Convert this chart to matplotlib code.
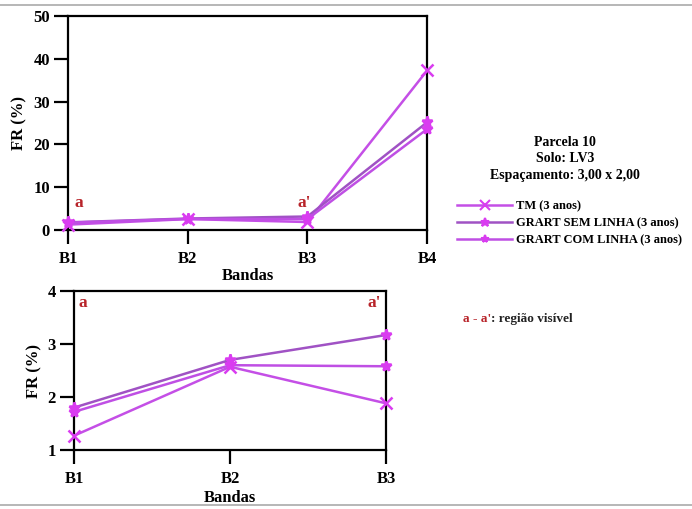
import matplotlib
matplotlib.use("Agg")
import matplotlib.pyplot as plt
from matplotlib.lines import Line2D

plt.rcParams['font.family'] = ['Liberation Serif', 'DejaVu Serif']
plt.rcParams['font.weight'] = 'bold'

bands_top = ["B1", "B2", "B3", "B4"]
bands_bot = ["B1", "B2", "B3"]
series_names = ["TM (3 anos)", "GRART SEM LINHA (3 anos)", "GRART COM LINHA (3 anos)"]
tm = [1.27, 2.57, 1.88, 37.3]
grart_sem = [1.80, 2.70, 3.17, 25.2]
grart_com = [1.72, 2.60, 2.58, 23.6]
series = [tm, grart_sem, grart_com]
line_colors = ["#c44fe6", "#a052c4", "#bf4fe4"]
markers = ["x", "*", "*"]
msizes = [9, 8, 7]
marker_color = "#d93cf0"
yticks_top = [0, 10, 20, 30, 40, 50]
yticks_bot = [1, 2, 3, 4]
red = "#b8242a"

fig = plt.figure(figsize=(6.92, 5.09), dpi=100)

def style(ax):
    for s in ax.spines.values():
        s.set_linewidth(1.6)
    ax.tick_params(axis='x', direction='out', length=10, width=1.6, labelsize=12, pad=5)
    ax.tick_params(axis='y', direction='out', length=10, width=1.6, labelsize=12, pad=3)
    for lab in ax.get_xticklabels() + ax.get_yticklabels():
        lab.set_fontweight('bold')

ax1 = fig.add_axes([0.0983, 0.548, 0.519, 0.4204])
xs = list(range(len(bands_top)))
for vals, c, m, ms in zip(series, line_colors, markers, msizes):
    ax1.plot(xs, vals, color=c, lw=1.8, marker=m, ms=ms, mec=marker_color,
             mfc=marker_color, mew=1.8, clip_on=False, zorder=3)
ax1.set_xlim(0, 3)
ax1.set_ylim(0, 50)
ax1.set_xticks(xs)
ax1.set_xticklabels(bands_top)
ax1.set_yticks(yticks_top)
ax1.set_xlabel("Bandas", fontsize=12, fontweight='bold', labelpad=1)
ax1.set_ylabel("FR (%)", fontsize=12, fontweight='bold', labelpad=4)
style(ax1)
ax1.text(0.05, 4.5, "a", color=red, fontsize=12.5, fontweight='bold', ha='left', va='bottom')
ax1.text(1.97, 4.5, "a'", color=red, fontsize=12.5, fontweight='bold', ha='center', va='bottom')

ax2 = fig.add_axes([0.107, 0.1159, 0.451, 0.3124])
xs2 = list(range(len(bands_bot)))
for vals, c, m, ms in zip(series, line_colors, markers, msizes):
    ax2.plot(xs2, vals[:3], color=c, lw=1.8, marker=m, ms=ms, mec=marker_color,
             mfc=marker_color, mew=1.8, clip_on=False, zorder=3)
ax2.set_xlim(0, 2)
ax2.set_ylim(1, 4)
ax2.set_xticks(xs2)
ax2.set_xticklabels(bands_bot)
ax2.set_yticks(yticks_bot)
ax2.set_xlabel("Bandas", fontsize=12, fontweight='bold', labelpad=2)
ax2.set_ylabel("FR (%)", fontsize=12, fontweight='bold', labelpad=4)
style(ax2)
ax2.text(0.03, 3.92, "a", color=red, fontsize=12.5, fontweight='bold', ha='left', va='top')
ax2.text(1.97, 3.92, "a'", color=red, fontsize=12.5, fontweight='bold', ha='right', va='top')

# Title block
fig.text(565/692, 1-143/509, "Parcela 10", ha='center', va='center', fontsize=10, fontweight='bold')
fig.text(565/692, 1-159/509, "Solo: LV3", ha='center', va='center', fontsize=10, fontweight='bold')
fig.text(565/692, 1-176/509, "Espaçamento: 3,00 x 2,00", ha='center', va='center', fontsize=10, fontweight='bold')

handles = [Line2D([0], [0], color=c, lw=1.8, marker=m, ms=ms * 0.8, mec=marker_color,
                  mfc=marker_color, mew=1.5)
           for c, m, ms in zip(line_colors, markers, msizes)]
leg = fig.legend(handles, series_names, loc='upper left', bbox_to_anchor=(457/692, 1-200/509),
                 frameon=False, handlelength=4.4, handletextpad=0.3, labelspacing=0.4,
                 prop={'family': 'Liberation Serif', 'weight': 'bold', 'size': 9},
                 borderaxespad=0, borderpad=0)

# visible-region note
t = fig.text(463/692, 1-319/509, "a - a'", ha='left', va='center', fontsize=9.5,
             fontweight='bold', color=red)
fig.canvas.draw()
bb = t.get_window_extent()
fig.text(bb.x1 / (6.92 * 100), 1-319/509, ": região visível", ha='left', va='center',
         fontsize=9.5, fontweight='bold', color='#222222')

# thin gray border lines
fig.add_artist(Line2D([0, 1], [1-5/509, 1-5/509], color='#aaaaaa', lw=1.2, transform=fig.transFigure))
fig.add_artist(Line2D([0, 1], [1-505/509, 1-505/509], color='#aaaaaa', lw=1.2, transform=fig.transFigure))

fig.savefig("out.png", dpi=100)
